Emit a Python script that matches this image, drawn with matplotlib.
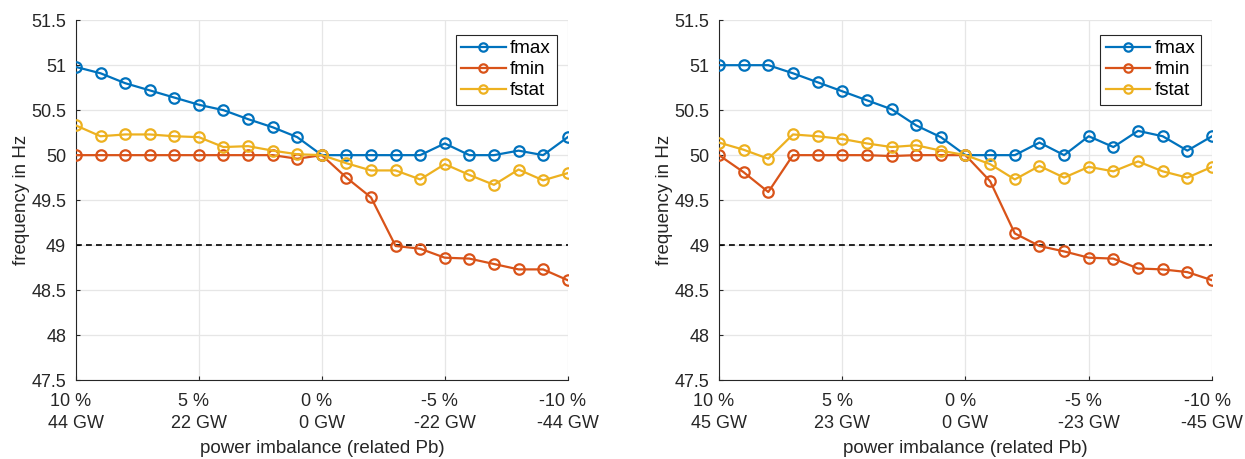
# frequency extremes vs. power imbalance, two grid cases side by side (MATLAB look)

import matplotlib
matplotlib.use("Agg")
import matplotlib.pyplot as plt

plt.rcParams['font.family'] = ['Liberation Sans', 'DejaVu Sans']

# power imbalance in % (related to Pb)
imbalance = [10, 9, 8, 7, 6, 5, 4, 3, 2, 1, 0, -1, -2, -3, -4, -5, -6, -7, -8, -9, -10]
tick_pct = [10, 5, 0, -5, -10]
# first line padded like a MATLAB char matrix
ticks_left = ['10 %  \n44 GW', '5 %  \n22 GW', '0 %  \n0 GW', '-5 %  \n-22 GW', '-10 %  \n-44 GW']
ticks_right = ['10 %  \n45 GW', '5 %  \n23 GW', '0 %  \n0 GW', '-5 %  \n-23 GW', '-10 %  \n-45 GW']

# left case
fmax_l = [50.98, 50.91, 50.80, 50.72, 50.64, 50.56, 50.50, 50.40, 50.31, 50.20, 50.00,
          50.00, 50.00, 50.00, 50.00, 50.13, 50.00, 50.00, 50.05, 50.00, 50.20]
fmin_l = [50.00, 50.00, 50.00, 50.00, 50.00, 50.00, 50.00, 50.00, 50.00, 49.96, 50.00,
          49.75, 49.53, 48.99, 48.96, 48.86, 48.85, 48.79, 48.73, 48.73, 48.61]
fstat_l = [50.33, 50.21, 50.23, 50.23, 50.21, 50.20, 50.09, 50.10, 50.05, 50.01, 50.00,
           49.91, 49.83, 49.83, 49.73, 49.90, 49.78, 49.67, 49.84, 49.72, 49.80]

# right case
fmax_r = [51.00, 51.00, 51.00, 50.91, 50.81, 50.71, 50.61, 50.51, 50.33, 50.20, 50.00,
          50.00, 50.00, 50.14, 50.00, 50.21, 50.09, 50.27, 50.21, 50.05, 50.21]
fmin_r = [50.00, 49.81, 49.59, 50.00, 50.00, 50.00, 50.00, 49.99, 50.00, 50.00, 50.00,
          49.71, 49.13, 48.99, 48.93, 48.86, 48.85, 48.74, 48.73, 48.70, 48.61]
fstat_r = [50.14, 50.06, 49.96, 50.23, 50.21, 50.18, 50.13, 50.09, 50.11, 50.05, 50.00,
           49.90, 49.73, 49.88, 49.75, 49.87, 49.82, 49.93, 49.82, 49.75, 49.87]

f_limit = 49.0
yticks = [47.5, 48, 48.5, 49, 49.5, 50, 50.5, 51, 51.5]

colors = ['#0072BD', '#D95319', '#EDB120']

fig = plt.figure(figsize=(12.45, 4.59), dpi=100)
ax_l = fig.add_axes([0.061, 0.172, 0.395, 0.784])
ax_r = fig.add_axes([0.5775, 0.172, 0.396, 0.784])


def draw(ax, fmax, fmin, fstat, labels):
    for vals, name, c in zip([fmax, fmin, fstat], ['fmax', 'fmin', 'fstat'], colors):
        ax.plot(imbalance, vals, '-o', color=c, lw=1.6, markersize=7.5,
                markerfacecolor='none', markeredgewidth=1.6, label=name, zorder=3)
    ax.axhline(f_limit, color='black', ls=(0, (3.5, 2.5)), lw=1.2, zorder=2)

    ax.set_xlim(10, -10)
    ax.set_ylim(47.5, 51.5)
    ax.set_xticks(tick_pct)
    ax.set_xticklabels(labels, linespacing=1.4)
    ax.set_yticks(yticks)
    ax.set_yticklabels(['%g' % v for v in yticks])
    ax.tick_params(labelsize=13, colors='#262626', direction='in', length=3, width=0.8)
    ax.tick_params(axis='x', pad=9)
    ax.tick_params(axis='y', pad=7)

    ax.grid(True, color='#e6e6e6', lw=0.9)
    ax.set_axisbelow(True)
    for s in ['top', 'right']:
        ax.spines[s].set_visible(False)
    for s in ['left', 'bottom']:
        ax.spines[s].set_color('#262626')
        ax.spines[s].set_linewidth(0.8)

    ax.set_ylabel('frequency in Hz', fontsize=13.5, color='#262626', labelpad=1)
    ax.set_xlabel('power imbalance (related Pb)', fontsize=13.5, color='#262626', labelpad=6)

    leg = ax.legend(loc='upper right', bbox_to_anchor=(0.985, 0.97), fontsize=13.5,
                    fancybox=False, framealpha=1, edgecolor='#262626', markerscale=0.8,
                    handlelength=2.35, borderpad=0.3, labelspacing=0.2,
                    handletextpad=0.25, borderaxespad=0.2)
    leg.get_frame().set_linewidth(0.8)


draw(ax_l, fmax_l, fmin_l, fstat_l, ticks_left)
draw(ax_r, fmax_r, fmin_r, fstat_r, ticks_right)

plt.savefig('out.png', dpi=100)
plt.close(fig)
